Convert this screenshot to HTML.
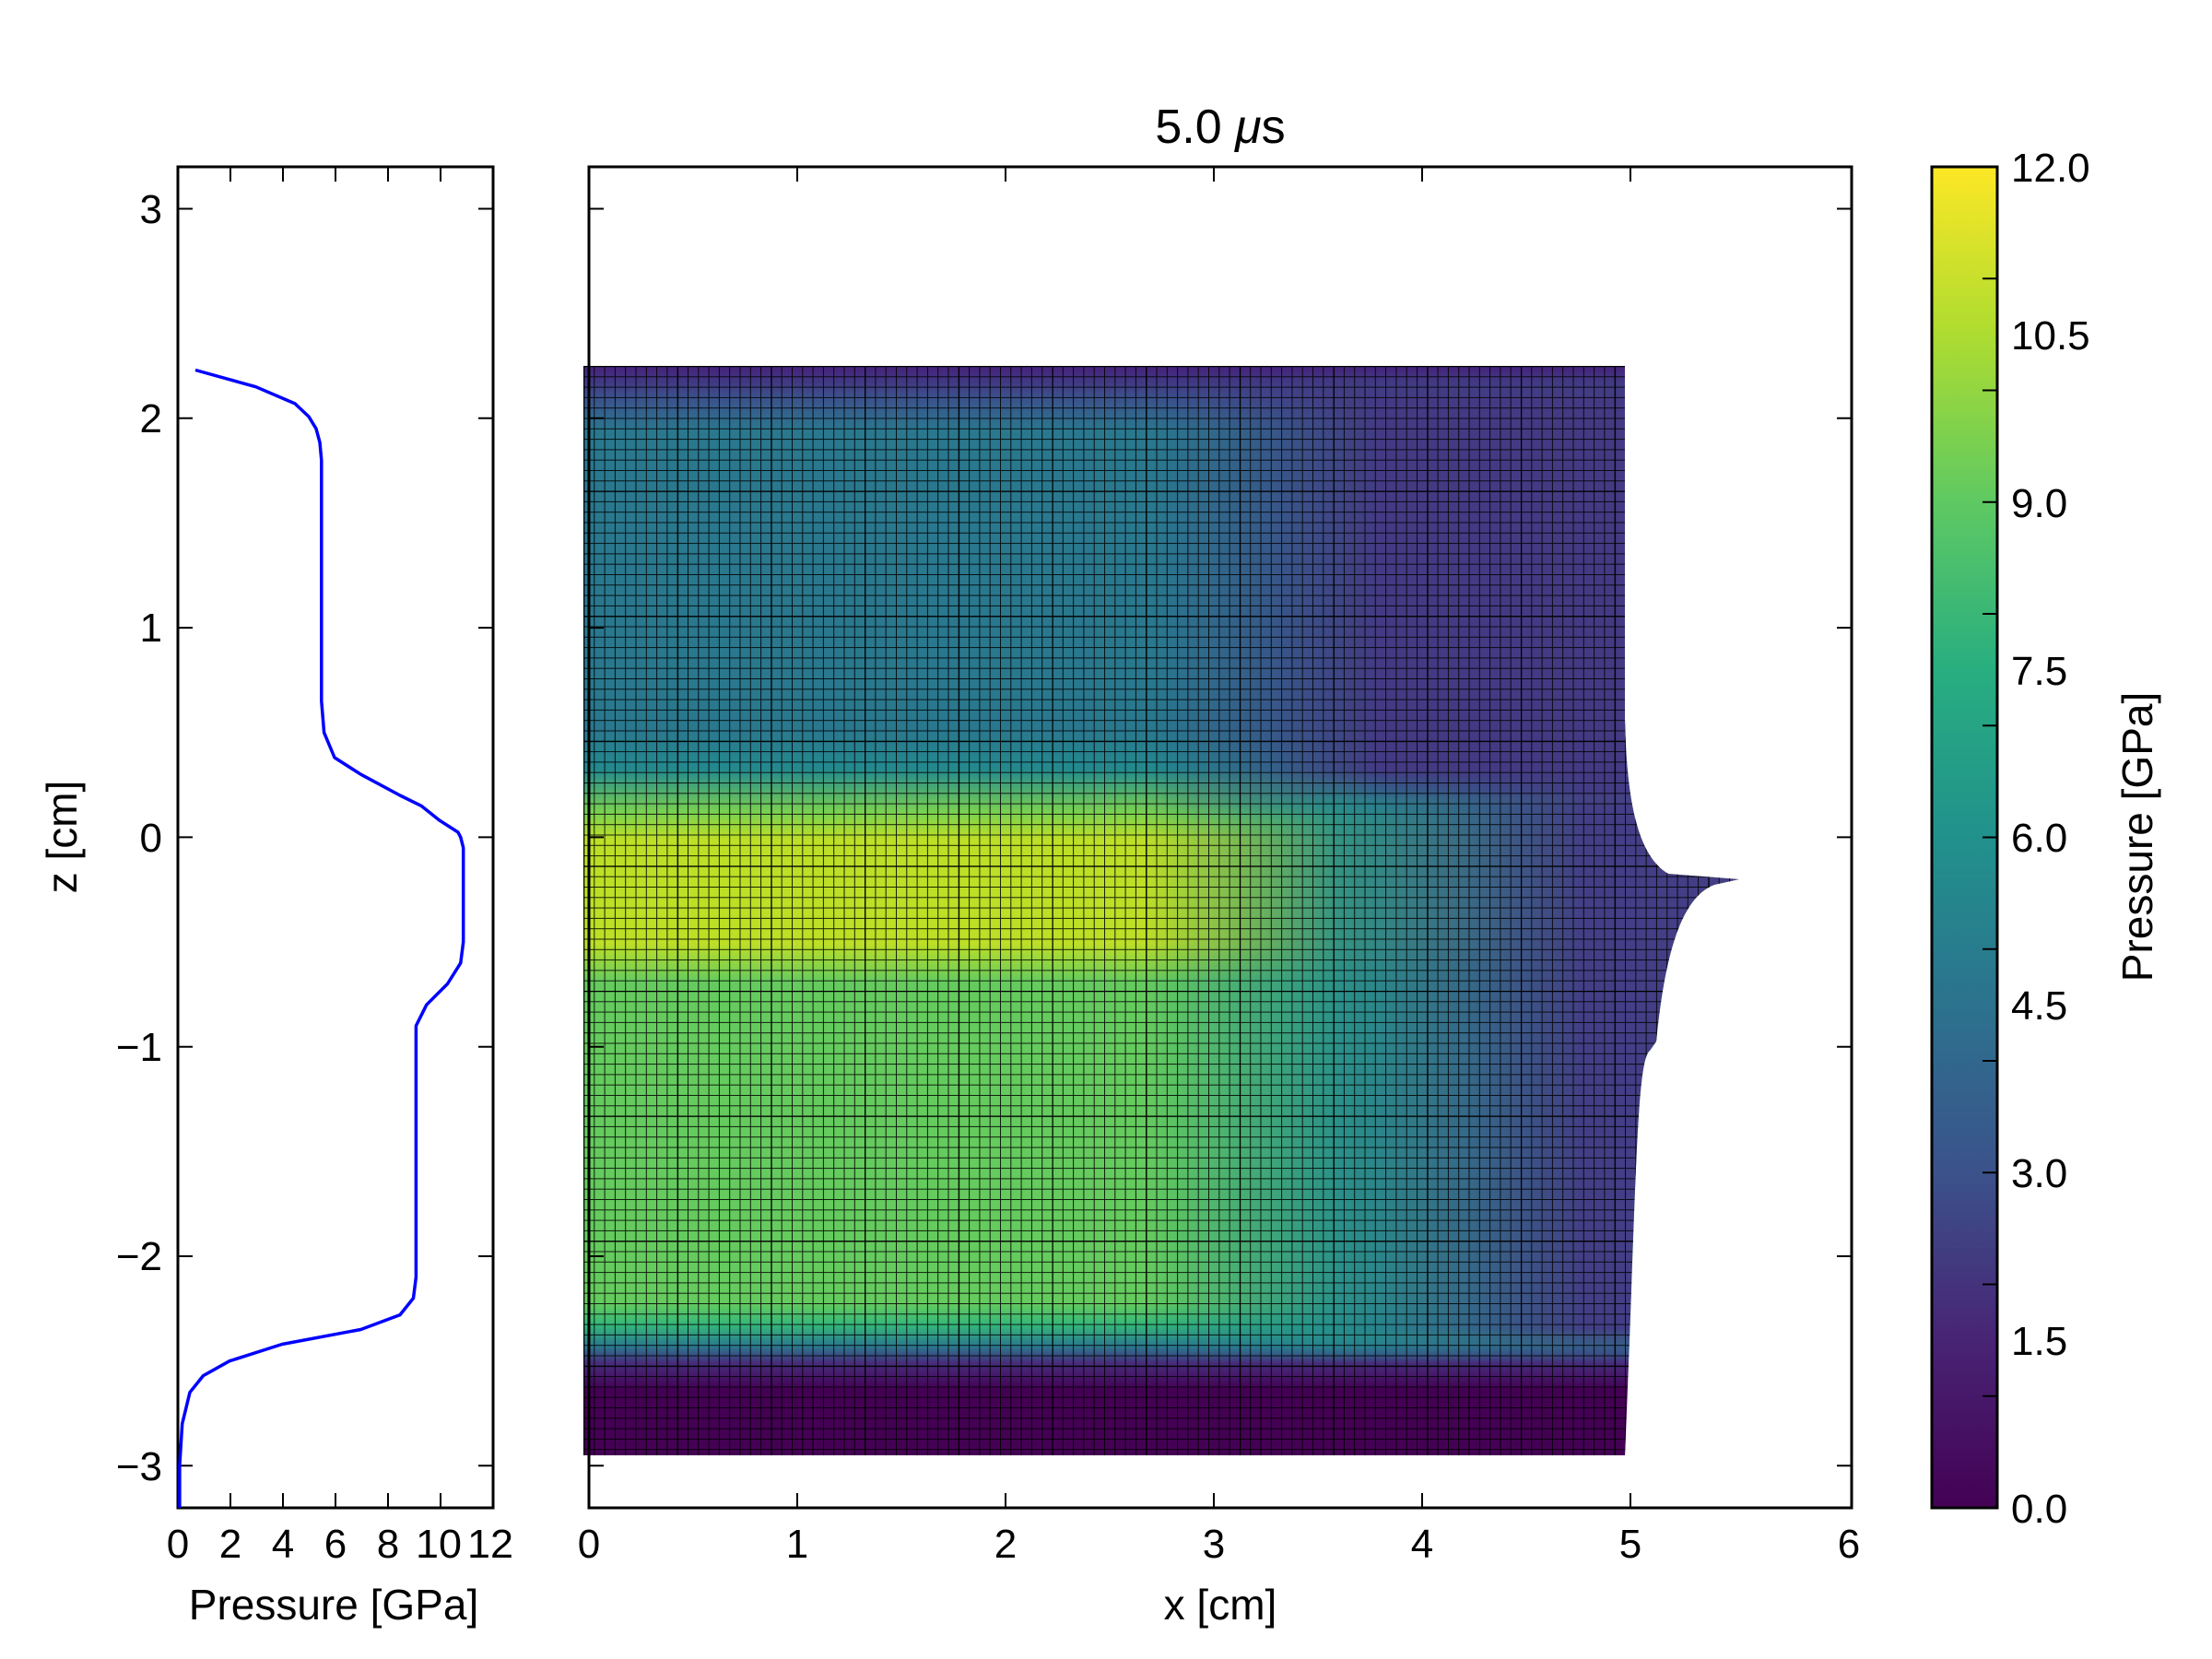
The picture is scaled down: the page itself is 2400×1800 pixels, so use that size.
<!DOCTYPE html>
<html><head><meta charset="utf-8"><style>
html,body{margin:0;padding:0;background:#fff}
svg{display:block}
text{font-family:"Liberation Sans",sans-serif;fill:#000}
</style></head><body>
<svg width="2400" height="1800" viewBox="0 0 2400 1800" xmlns="http://www.w3.org/2000/svg">
<defs>
<linearGradient id="vert" x1="0" y1="397" x2="0" y2="1579" gradientUnits="userSpaceOnUse">
<stop offset="0" stop-color="#46207a"/>
<stop offset="0.03" stop-color="#3b528b"/>
<stop offset="0.06" stop-color="#2a788e"/>
<stop offset="0.335" stop-color="#2a788e"/>
<stop offset="0.37" stop-color="#23898e"/>
<stop offset="0.41" stop-color="#7ad151"/>
<stop offset="0.435" stop-color="#bddf26"/>
<stop offset="0.53" stop-color="#bddf26"/>
<stop offset="0.565" stop-color="#65cb5e"/>
<stop offset="0.86" stop-color="#65cb5e"/>
<stop offset="0.88" stop-color="#35b779"/>
<stop offset="0.90" stop-color="#2a788e"/>
<stop offset="0.915" stop-color="#472d7b"/>
<stop offset="0.94" stop-color="#440154"/>
<stop offset="1" stop-color="#440154"/>
</linearGradient>
<linearGradient id="hTop" x1="1250" y1="0" x2="1500" y2="0" gradientUnits="userSpaceOnUse">
<stop offset="0" stop-color="#443a83" stop-opacity="0"/>
<stop offset="1" stop-color="#443a83" stop-opacity="1"/>
</linearGradient>
<linearGradient id="hMid" x1="1240" y1="0" x2="1720" y2="0" gradientUnits="userSpaceOnUse">
<stop offset="0" stop-color="#23898e" stop-opacity="0"/>
<stop offset="0.45" stop-color="#23898e" stop-opacity="0.9"/>
<stop offset="1" stop-color="#433e85" stop-opacity="1"/>
</linearGradient>
<linearGradient id="vfade" x1="0" y1="0" x2="0" y2="1" >
<stop offset="0" stop-color="#fff" stop-opacity="0"/>
<stop offset="0.06" stop-color="#fff" stop-opacity="1"/>
<stop offset="0.94" stop-color="#fff" stop-opacity="1"/>
<stop offset="1" stop-color="#fff" stop-opacity="0"/>
</linearGradient>
<mask id="midmask"><rect x="633" y="835" width="1300" height="645" fill="url(#vfade)"/></mask>
<mask id="topmask"><rect x="633" y="400" width="1300" height="490" fill="url(#vfade)"/></mask>
<linearGradient id="cbar" x1="0" y1="1636" x2="0" y2="181" gradientUnits="userSpaceOnUse">
<stop offset="0" stop-color="#440154"/>
<stop offset="0.125" stop-color="#482475"/>
<stop offset="0.25" stop-color="#3b528b"/>
<stop offset="0.375" stop-color="#2c728e"/>
<stop offset="0.5" stop-color="#21918c"/>
<stop offset="0.625" stop-color="#28ae80"/>
<stop offset="0.75" stop-color="#5ec962"/>
<stop offset="0.875" stop-color="#addc30"/>
<stop offset="1" stop-color="#fde725"/>
</linearGradient>
<pattern id="grid" x="633" y="397" width="11.3" height="11.3" patternUnits="userSpaceOnUse">
<path d="M0,0 V11.3 M0,0 H11.3" stroke="#000" stroke-width="2" fill="none" opacity="0.85"/>
</pattern>
<pattern id="grid2" x="633" y="397" width="101.7" height="135.6" patternUnits="userSpaceOnUse">
<path d="M0,0 V135.6 M0,0 H101.7" stroke="#000" stroke-width="2.5" fill="none"/>
</pattern>
<clipPath id="shape">
<path d="M633,397 L1763,397 L1763,780 C1765,880 1780,930 1810,948 L1887,954 L1860,960 C1820,975 1805,1050 1797,1130 L1790,1140 C1775,1150 1775,1300 1763,1579 L633,1579 Z"/>
</clipPath>
</defs>

<!-- main mesh -->
<g clip-path="url(#shape)">
<rect x="633" y="397" width="1260" height="1182" fill="url(#vert)"/>
<rect x="633" y="400" width="1300" height="490" fill="url(#hTop)" mask="url(#topmask)"/>
<rect x="633" y="835" width="1300" height="645" fill="url(#hMid)" mask="url(#midmask)"/>
<rect x="633" y="397" width="1260" height="1182" fill="url(#grid)"/>
<rect x="633" y="397" width="1260" height="1182" fill="url(#grid2)"/>
</g>

<!-- main axes -->
<rect x="639" y="181" width="1370" height="1455" fill="none" stroke="#000" stroke-width="3"/>
<g stroke="#000" stroke-width="2">
<path d="M865,1636v-16M1091,1636v-16M1317,1636v-16M1543,1636v-16M1769,1636v-16
M865,181v16M1091,181v16M1317,181v16M1543,181v16M1769,181v16
M639,226.5h16M639,453.8h16M639,681.1h16M639,908.4h16M639,1135.7h16M639,1363h16M639,1590.3h16
M2009,226.5h-16M2009,453.8h-16M2009,681.1h-16M2009,908.4h-16M2009,1135.7h-16M2009,1363h-16M2009,1590.3h-16"/>
</g>
<g font-size="44" text-anchor="middle">
<text x="639" y="1690">0</text><text x="865" y="1690">1</text><text x="1091" y="1690">2</text>
<text x="1317" y="1690">3</text><text x="1543" y="1690">4</text><text x="1769" y="1690">5</text><text x="2006" y="1690">6</text>
<text x="1324" y="1757" font-size="46">x [cm]</text>
<text x="1324" y="155" font-size="52">5.0 <tspan font-style="italic">μ</tspan>s</text>
</g>

<!-- left profile axes -->
<rect x="193" y="181" width="342" height="1455" fill="none" stroke="#000" stroke-width="3"/>
<g stroke="#000" stroke-width="2">
<path d="M250,1636v-16M307,1636v-16M364,1636v-16M421,1636v-16M478,1636v-16
M250,181v16M307,181v16M364,181v16M421,181v16M478,181v16
M193,226.5h16M193,453.8h16M193,681.1h16M193,908.4h16M193,1135.7h16M193,1363h16M193,1590.3h16
M535,226.5h-16M535,453.8h-16M535,681.1h-16M535,908.4h-16M535,1135.7h-16M535,1363h-16M535,1590.3h-16"/>
</g>
<polyline fill="none" stroke="#0000ff" stroke-width="3.5" stroke-linejoin="round" points="
212,401.5 277.5,419.7 320,437.9 335,452 343,465.2 347,480 348.8,499.3 348.8,760.6 351.6,794.8 363,822 391.5,840.2 434,863 457,874.3 477,890.2 497,903 499.8,908.4 502.7,919.8 502.7,1022 499.8,1044.8 485.5,1067.5 462.8,1090.2 451.4,1113 451.4,1385.7 448.5,1408.5 434,1426.6 391.5,1442.5 306,1458.5 249,1476.7 220.5,1492.6 206,1510.7 197.7,1544.8 194.9,1590.3 194.9,1636"/>
<g font-size="44" text-anchor="middle">
<text x="193" y="1690">0</text><text x="250" y="1690">2</text><text x="307" y="1690">4</text>
<text x="364" y="1690">6</text><text x="421" y="1690">8</text><text x="476" y="1690" textLength="50" lengthAdjust="spacingAndGlyphs">10</text><text x="532" y="1690" textLength="50" lengthAdjust="spacingAndGlyphs">12</text>
<text x="362" y="1757" font-size="46">Pressure [GPa]</text>
</g>
<g font-size="44" text-anchor="end">
<text x="176" y="242">3</text><text x="176" y="469">2</text><text x="176" y="696">1</text>
<text x="176" y="924">0</text><text x="176" y="1151">−1</text><text x="176" y="1378">−2</text><text x="176" y="1606">−3</text>
</g>
<text font-size="46" text-anchor="middle" transform="translate(83,908) rotate(-90)">z [cm]</text>

<!-- colorbar -->
<rect x="2096" y="181" width="71" height="1455" fill="url(#cbar)" stroke="#000" stroke-width="3"/>
<g stroke="#000" stroke-width="2">
<path d="M2167,1514.75h-16M2167,1393.5h-16M2167,1272.25h-16M2167,1151h-16M2167,1029.75h-16M2167,908.5h-16M2167,787.25h-16M2167,666h-16M2167,544.75h-16M2167,423.5h-16M2167,302.25h-16"/>
</g>
<g font-size="44">
<text x="2182" y="1652">0.0</text><text x="2182" y="1470">1.5</text><text x="2182" y="1288">3.0</text>
<text x="2182" y="1106">4.5</text><text x="2182" y="924">6.0</text><text x="2182" y="743">7.5</text>
<text x="2182" y="561">9.0</text><text x="2182" y="379">10.5</text><text x="2182" y="197">12.0</text>
</g>
<text font-size="46" text-anchor="middle" transform="translate(2335,908) rotate(-90)">Pressure [GPa]</text>
</svg>
</body></html>
